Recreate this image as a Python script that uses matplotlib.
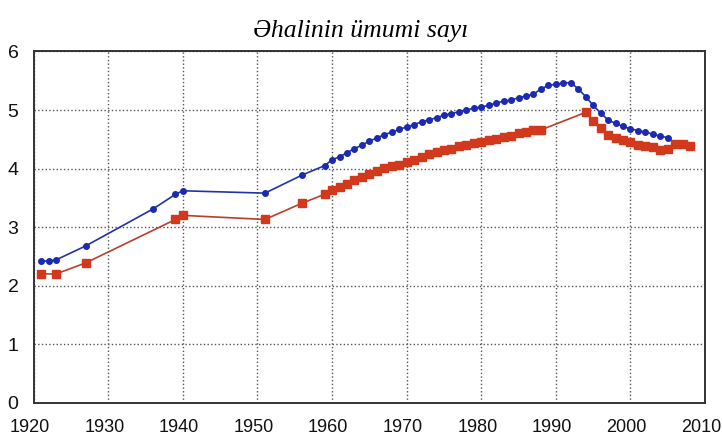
import matplotlib
matplotlib.use('Agg')
import matplotlib.pyplot as plt
from matplotlib.transforms import ScaledTranslation

# data
years_blue = [1921, 1922, 1923, 1927, 1936, 1939, 1940, 1951, 1956, 1959,
              1960, 1961, 1962, 1963, 1964, 1965, 1966, 1967, 1968, 1969,
              1970, 1971, 1972, 1973, 1974, 1975, 1976, 1977, 1978, 1979,
              1980, 1981, 1982, 1983, 1984, 1985, 1986, 1987, 1988, 1989,
              1990, 1991, 1992, 1993, 1994, 1995, 1996, 1997, 1998, 1999,
              2000, 2001, 2002, 2003, 2004, 2005]
values_blue = [2.42, 2.42, 2.44, 2.68, 3.31, 3.56, 3.62, 3.58, 3.89, 4.05,
               4.15, 4.20, 4.27, 4.34, 4.40, 4.47, 4.52, 4.58, 4.62, 4.67,
               4.71, 4.75, 4.80, 4.83, 4.87, 4.91, 4.94, 4.97, 5.00, 5.03,
               5.05, 5.08, 5.12, 5.15, 5.17, 5.21, 5.24, 5.27, 5.36, 5.42,
               5.44, 5.46, 5.47, 5.36, 5.23, 5.08, 4.95, 4.83, 4.77, 4.72,
               4.68, 4.65, 4.62, 4.59, 4.55, 4.53]

years_red = [1921, 1923, 1927, 1939, 1940, 1951, 1956, 1959, 1960, 1961,
             1962, 1963, 1964, 1965, 1966, 1967, 1968, 1969, 1970, 1971,
             1972, 1973, 1974, 1975, 1976, 1977, 1978, 1979, 1980, 1981,
             1982, 1983, 1984, 1985, 1986, 1987, 1988, 1994, 1995, 1996,
             1997, 1998, 1999, 2000, 2001, 2002, 2003, 2004, 2005, 2006,
             2007, 2008]
values_red = [2.20, 2.20, 2.39, 3.13, 3.20, 3.13, 3.41, 3.56, 3.64, 3.69,
              3.74, 3.80, 3.86, 3.91, 3.96, 4.01, 4.04, 4.06, 4.11, 4.15,
              4.20, 4.25, 4.29, 4.32, 4.34, 4.38, 4.41, 4.44, 4.46, 4.49,
              4.51, 4.54, 4.56, 4.60, 4.62, 4.66, 4.66, 4.96, 4.82, 4.70,
              4.58, 4.52, 4.49, 4.45, 4.41, 4.38, 4.36, 4.32, 4.34, 4.42,
              4.42, 4.39]

x_ticks = [1920, 1930, 1940, 1950, 1960, 1970, 1980, 1990, 2000, 2010]
y_ticks = [0, 1, 2, 3, 4, 5, 6]
title = 'Əhalinin ümumi sayı'

fig = plt.figure(figsize=(7.22, 4.40), dpi=100)
ax = fig.add_axes([0.0467, 0.0848, 0.9298, 0.7982])

ax.plot(years_red, values_red, color='#b8402a', linewidth=1.2,
        marker='s', markersize=6, markerfacecolor='#d2381c',
        markeredgecolor='#d2381c', zorder=3)
ax.plot(years_blue, values_blue, color='#2233a8', linewidth=1.2,
        marker='o', markersize=4, markerfacecolor='#1b2ab0',
        markeredgecolor='#1b2ab0', zorder=4)

ax.set_xlim(1920, 2010)
ax.set_ylim(0, 6)
ax.set_xticks(x_ticks)
ax.set_yticks(y_ticks)
ax.tick_params(axis='x', length=0, labelsize=13, pad=12)
ax.tick_params(axis='y', length=0, labelsize=14, pad=11)
shift = ScaledTranslation(-4 / 100, 0, fig.dpi_scale_trans)
for lab in ax.get_xticklabels():
    lab.set_transform(lab.get_transform() + shift)
for lab in ax.get_xticklabels() + ax.get_yticklabels():
    lab.set_family('Liberation Sans')
    lab.set_color('#111111')
ax.grid(True, linestyle=':', color='#555555', linewidth=1.0)
for s in ax.spines.values():
    s.set_color('#333333')
    s.set_linewidth(1.4)

fig.text(0.5, 0.93, title, ha='center', va='center', fontsize=18.5,
         family='Liberation Serif', style='italic')

fig.savefig('out.png', dpi=100)
